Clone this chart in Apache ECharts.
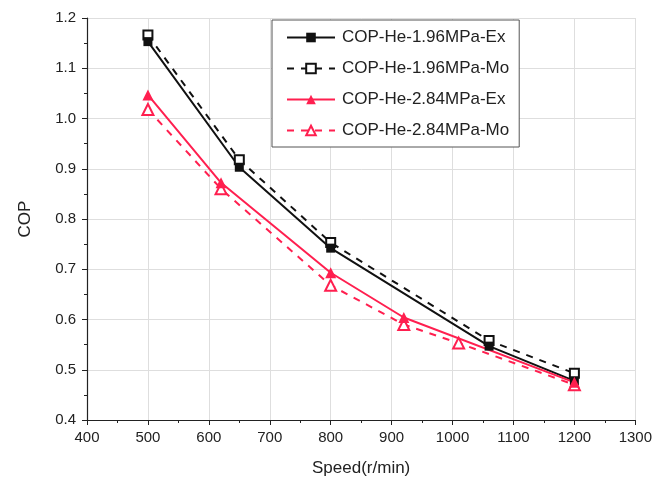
<!DOCTYPE html>
<html>
<head>
<meta charset="utf-8">
<script src="https://cdn.jsdelivr.net/npm/echarts@6/dist/echarts.min.js"></script>
<style>
  html, body { margin: 0; padding: 0; background: #fff; }
  #chart { width: 655px; height: 489px; }
</style>
</head>
<body>
<div id="chart"></div>
<script>
// speeds (r/min) and COP values
const speed196Ex = [500, 650, 800, 1060, 1200];
const cop196Ex = [1.153, 0.903, 0.742, 0.547, 0.478];
const speed196Mo = [500, 650, 800, 1060, 1200];
const cop196Mo = [1.166, 0.918, 0.753, 0.558, 0.493];
const speed284Ex = [500, 620, 800, 920, 1200];
const cop284Ex = [1.047, 0.872, 0.693, 0.604, 0.475];
const speed284Mo = [500, 620, 800, 920, 1010, 1200];
const cop284Mo = [1.018, 0.86, 0.668, 0.59, 0.553, 0.47];

const names = [
  'COP-He-1.96MPa-Ex',
  'COP-He-1.96MPa-Mo',
  'COP-He-2.84MPa-Ex',
  'COP-He-2.84MPa-Mo'
];

const pairs = (xs, ys) => xs.map((x, i) => [x, ys[i]]);

const black = '#111111';
const red = '#ff1f4f';
const font = 'Liberation Sans, Arial, sans-serif';

const chart = echarts.init(document.getElementById('chart'));

const option = {
  animation: false,
  backgroundColor: '#fff',
  grid: { left: 87, right: 18, top: 18, bottom: 69 },
  legend: {
    orient: 'vertical',
    left: 272,
    top: 20,
    width: 293,
    padding: [9, 10, 8, 14],
    itemWidth: 48,
    itemHeight: 12,
    itemGap: 14,
    backgroundColor: '#fff',
    borderColor: '#555',
    borderWidth: 1,
    textStyle: { fontFamily: font, fontSize: 17, color: '#222', padding: [0, 0, 0, 2] },
    data: names
  },
  xAxis: {
    type: 'value',
    min: 400,
    max: 1300,
    interval: 100,
    name: 'Speed(r/min)',
    nameLocation: 'middle',
    nameGap: 40,
    nameTextStyle: { fontFamily: font, fontSize: 17, color: '#222' },
    axisLine: { show: true, onZero: false, lineStyle: { color: '#222', width: 1.2 } },
    axisTick: { show: true, length: 5, lineStyle: { color: '#222' } },
    minorTick: { show: true, splitNumber: 2, length: 3, lineStyle: { color: '#222' } },
    axisLabel: { fontFamily: font, fontSize: 15, color: '#222', margin: 10, formatter: v => String(v) },
    splitLine: { show: true, lineStyle: { color: '#dedede', width: 1 } }
  },
  yAxis: {
    type: 'value',
    min: 0.4,
    max: 1.2,
    interval: 0.1,
    name: 'COP',
    nameLocation: 'middle',
    nameGap: 53,
    nameRotate: 90,
    nameTextStyle: { fontFamily: font, fontSize: 17, color: '#222' },
    axisLine: { show: true, onZero: false, lineStyle: { color: '#222', width: 1.2 } },
    axisTick: { show: true, length: 5, lineStyle: { color: '#222' } },
    minorTick: { show: true, splitNumber: 2, length: 3, lineStyle: { color: '#222' } },
    axisLabel: {
      fontFamily: font, fontSize: 15, color: '#222', margin: 11,
      formatter: v => v.toFixed(1)
    },
    splitLine: { show: true, lineStyle: { color: '#dedede', width: 1 } }
  },
  series: [
    {
      name: names[1],
      type: 'line',
      data: pairs(speed196Mo, cop196Mo),
      symbol: 'emptyRect',
      symbolSize: 9,
      lineStyle: { color: black, width: 2, type: [7, 7] },
      itemStyle: { color: black, borderWidth: 1.2 }
    },
    {
      name: names[3],
      type: 'line',
      data: pairs(speed284Mo, cop284Mo),
      symbol: 'emptyTriangle',
      symbolSize: 11,
      lineStyle: { color: red, width: 2, type: [7, 7] },
      itemStyle: { color: red, borderWidth: 1.2 }
    },
    {
      name: names[0],
      type: 'line',
      data: pairs(speed196Ex, cop196Ex),
      symbol: 'rect',
      symbolSize: 9,
      lineStyle: { color: black, width: 2 },
      itemStyle: { color: black }
    },
    {
      name: names[2],
      type: 'line',
      data: pairs(speed284Ex, cop284Ex),
      symbol: 'triangle',
      symbolSize: 11,
      lineStyle: { color: red, width: 2 },
      itemStyle: { color: red }
    }
  ]
};

chart.setOption(option);
</script>
</body>
</html>
